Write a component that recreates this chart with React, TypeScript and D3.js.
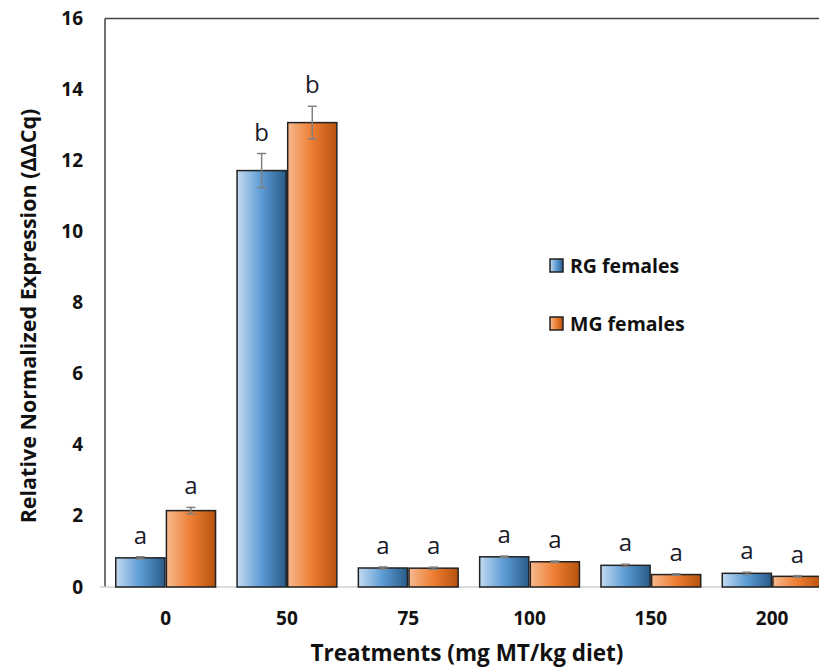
import React, { useEffect, useRef } from "react";
import * as d3 from "d3";

const treatments = ["0", "50", "75", "100", "150", "200"];
const seriesNames = ["RG females", "MG females"];
const rgValues = [0.82, 11.72, 0.535, 0.85, 0.61, 0.385];
const mgValues = [2.15, 13.07, 0.53, 0.71, 0.35, 0.3];
const rgErrors = [0.03, 0.48, 0.03, 0.02, 0.03, 0.03];
const mgErrors = [0.09, 0.46, 0.03, 0.02, 0.02, 0.02];
const rgLetters = ["a", "b", "a", "a", "a", "a"];
const mgLetters = ["a", "b", "a", "a", "a", "a"];
const yTicks = [0, 2, 4, 6, 8, 10, 12, 14, 16];

const W = 819;
const H = 667;
const FONT = "'Open Sans', 'Noto Sans', sans-serif";

const App = () => {
  const ref = useRef<SVGSVGElement>(null);

  useEffect(() => {
    const svg = d3.select(ref.current);
    svg.selectAll("*").remove();

    const left = 105;
    const top = 18.5;
    const bottom = 587;
    const step = 121.3;

    const x = d3
      .scaleBand()
      .domain(treatments)
      .range([left, left + step * treatments.length])
      .paddingInner(0.165)
      .paddingOuter(0.0825);
    const x1 = d3.scaleBand().domain(seriesNames).range([0, x.bandwidth()]);
    const y = d3.scaleLinear().domain([0, 16]).range([bottom, top]);

    const defs = svg.append("defs");
    const grad = (id, stops) => {
      const g = defs.append("linearGradient").attr("id", id).attr("x1", 0).attr("x2", 1).attr("y1", 0).attr("y2", 0);
      stops.forEach(([o, c]) => g.append("stop").attr("offset", o).attr("stop-color", c));
    };
    grad("gBlue", [[0, "#c3daf0"], [0.5, "#5b9bd5"], [1, "#2a5b87"]]);
    grad("gOrange", [[0, "#f7b98f"], [0.5, "#ed7d31"], [1, "#b5520f"]]);
    const fills = ["url(#gBlue)", "url(#gOrange)"];

    // frame lines
    svg.append("line").attr("x1", left).attr("x2", W).attr("y1", top).attr("y2", top)
      .attr("stroke", "#444").attr("stroke-width", 1.5);
    svg.append("line").attr("x1", left).attr("x2", left).attr("y1", top).attr("y2", bottom)
      .attr("stroke", "#444").attr("stroke-width", 1.5);
    svg.append("line").attr("x1", left - 5).attr("x2", W).attr("y1", bottom).attr("y2", bottom)
      .attr("stroke", "#d0d0d0").attr("stroke-width", 1.5);

    // y tick labels
    svg.append("g").selectAll("text").data(yTicks).enter().append("text")
      .attr("x", 83).attr("y", (d) => y(d) + 6.5)
      .attr("text-anchor", "end").attr("font-family", FONT).attr("font-weight", "bold")
      .attr("font-size", 19).attr("fill", "#111").text((d) => d);

    const rows = treatments.map((t, i) => ({
      t,
      vals: [
        { s: seriesNames[0], v: rgValues[i], e: rgErrors[i], l: rgLetters[i], k: 0 },
        { s: seriesNames[1], v: mgValues[i], e: mgErrors[i], l: mgLetters[i], k: 1 },
      ],
    }));

    const groups = svg.append("g").selectAll("g").data(rows).enter().append("g")
      .attr("transform", (d) => `translate(${x(d.t)},0)`);

    const bars = groups.selectAll("g.bar").data((d) => d.vals).enter().append("g").attr("class", "bar");

    bars.append("rect")
      .attr("x", (d) => x1(d.s)! + 0.75)
      .attr("width", x1.bandwidth() - 1.5)
      .attr("y", (d) => y(d.v))
      .attr("height", (d) => bottom - y(d.v))
      .attr("fill", (d) => fills[d.k])
      .attr("stroke", "#222").attr("stroke-width", 1.5);

    const cx = (d) => x1(d.s)! + x1.bandwidth() / 2;
    const errColor = "#808080";
    bars.append("line")
      .attr("x1", cx).attr("x2", cx)
      .attr("y1", (d) => y(d.v + d.e)).attr("y2", (d) => y(d.v - d.e))
      .attr("stroke", errColor).attr("stroke-width", 1.5);
    [1, -1].forEach((sg) => {
      bars.append("line")
        .attr("x1", (d) => cx(d) - 4.5).attr("x2", (d) => cx(d) + 4.5)
        .attr("y1", (d) => y(d.v + sg * d.e)).attr("y2", (d) => y(d.v + sg * d.e))
        .attr("stroke", errColor).attr("stroke-width", 1.5);
    });

    bars.append("text")
      .attr("x", cx)
      .attr("y", (d) => y(d.v + d.e) - 13)
      .attr("text-anchor", "middle").attr("font-family", FONT)
      .attr("font-size", 24).attr("fill", "#1a1a2a").text((d) => d.l);

    // x tick labels
    svg.append("g").selectAll("text").data(treatments).enter().append("text")
      .attr("x", (d) => x(d)! + x.bandwidth() / 2).attr("y", 625)
      .attr("text-anchor", "middle").attr("font-family", FONT).attr("font-weight", "bold")
      .attr("font-size", 19).attr("fill", "#111").text((d) => d);

    // axis titles
    svg.append("text").attr("x", 467).attr("y", 661)
      .attr("text-anchor", "middle").attr("font-family", FONT).attr("font-weight", "bold")
      .attr("font-size", 22.5).attr("fill", "#111").text("Treatments (mg MT/kg diet)");
    svg.append("text")
      .attr("transform", `translate(36,316) rotate(-90)`)
      .attr("text-anchor", "middle").attr("font-family", FONT).attr("font-weight", "bold")
      .attr("font-size", 21.5).attr("fill", "#111").text("Relative Normalized Expression (ΔΔCq)");

    // legend
    const legend = svg.append("g").selectAll("g").data(seriesNames).enter().append("g")
      .attr("transform", (d, i) => `translate(550,${259 + i * 58})`);
    legend.append("rect").attr("width", 13).attr("height", 13)
      .attr("fill", (d, i) => fills[i]).attr("stroke", "#222").attr("stroke-width", 1.5);
    legend.append("text").attr("x", 20).attr("y", 13.5)
      .attr("font-family", FONT).attr("font-weight", "bold").attr("font-size", 19.5)
      .attr("fill", "#111").text((d) => d);
  }, []);

  return (
    <svg
      ref={ref}
      width={W}
      height={H}
      style={{ position: "absolute", left: 0, top: 0, background: "#fff" }}
    />
  );
};

export default App;
